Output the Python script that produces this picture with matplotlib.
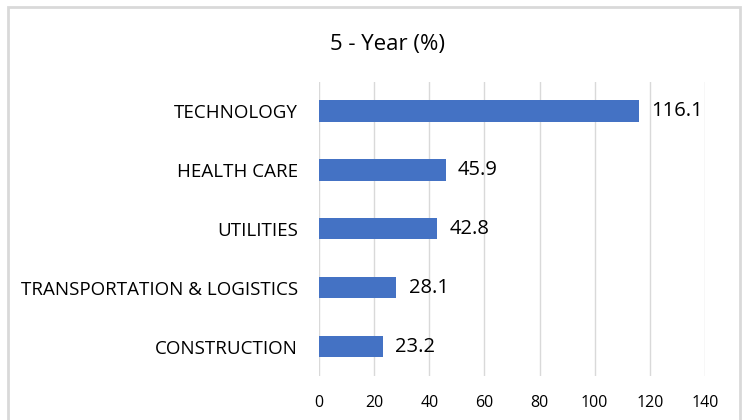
import matplotlib.pyplot as plt
from matplotlib.patches import Rectangle

categories = ['CONSTRUCTION', 'TRANSPORTATION & LOGISTICS', 'UTILITIES', 'HEALTH CARE', 'TECHNOLOGY']
values = [23.2, 28.1, 42.8, 45.9, 116.1]
xticks = [0, 20, 40, 60, 80, 100, 120, 140]

plt.rcParams['font.family'] = ['Open Sans', 'DejaVu Sans']

fig = plt.figure(figsize=(7.47, 4.2), dpi=100)
ax = fig.add_axes([0.427, 0.1048, 0.5168, 0.7009])

# outer frame of the chart area
fig.patches.append(Rectangle((8 / 747, -0.05), (740 - 8) / 747, 1.05 - 7 / 420,
                             transform=fig.transFigure, fill=False,
                             edgecolor='#d9d9d9', linewidth=2))

y = range(len(categories))
ax.barh(y, values, height=0.36, color='#4472C4', zorder=2)
for yi, v in zip(y, values):
    ax.text(v + 4.5, yi, f'{v}', va='center', ha='left', fontsize=14.5, color='black')

ax.set_xlim(0, 140)
ax.set_ylim(-0.5, len(categories) - 0.5)
ax.set_xticks(xticks)
ax.set_yticks(list(y))
ax.set_yticklabels(categories, fontsize=13.5)
ax.tick_params(axis='x', labelsize=11.5, length=0, pad=14)
ax.tick_params(axis='y', length=0, pad=15)
ax.grid(axis='x', color='#d9d9d9', linewidth=1, zorder=0)
for s in ax.spines.values():
    s.set_visible(False)

fig.text(0.519, 0.893, '5 - Year (%)', ha='center', va='center', fontsize=16)

fig.savefig('out.png', dpi=100)
